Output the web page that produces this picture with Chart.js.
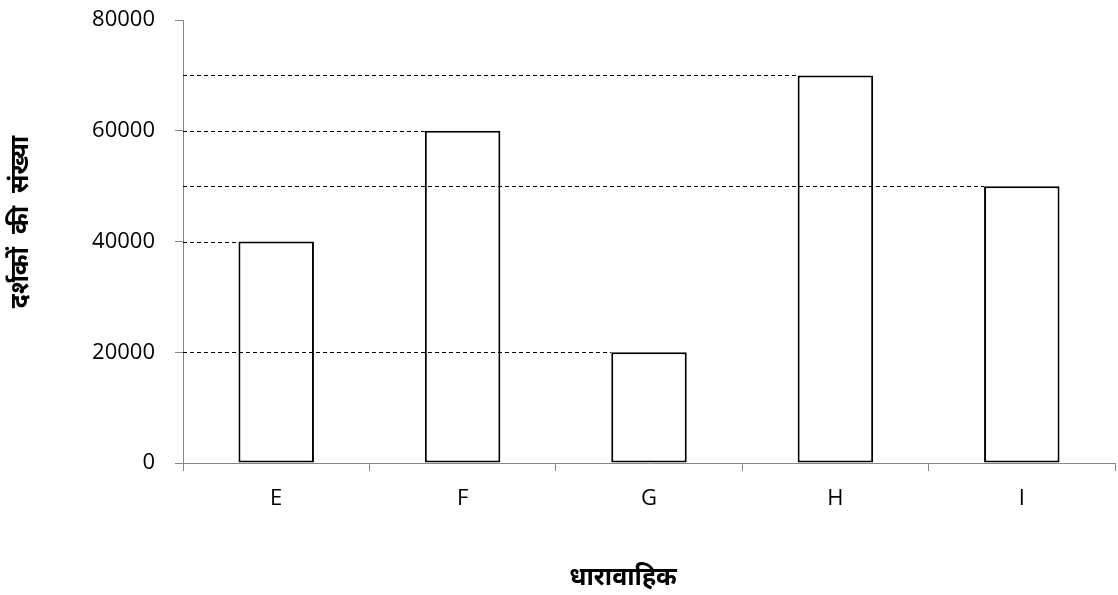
<!DOCTYPE html>
<html>
<head>
<meta charset="utf-8">
<script src="https://cdn.jsdelivr.net/npm/chart.js@4.4.1/dist/chart.umd.min.js"></script>
<style>
  html, body { margin: 0; padding: 0; background: #fff; }
  #wrap { width: 1118px; height: 595px; position: relative; }
</style>
</head>
<body>
<div id="wrap"><canvas id="chartDharavahik"></canvas></div>
<script>
const categories = ['E', 'F', 'G', 'H', 'I'];
const viewers = [40000, 60000, 20000, 70000, 50000];
const yTicks = [0, 20000, 40000, 60000, 80000];
// spaces keep the titles off-centre as in the original
const yTitle = '      दर्शकों  की  संख्या';
const xTitle = 'धारावाहिक        ';

const axisGray = '#868686';
const fontFamily = '"Open Sans", "Noto Sans", sans-serif';

// dashed guide lines from the y axis to the top-left corner of each bar
const guideLines = {
    id: 'guideLines',
    afterDatasetsDraw(chart) {
        const ctx = chart.ctx;
        const yScale = chart.scales.y;
        const meta = chart.getDatasetMeta(0);
        ctx.save();
        ctx.strokeStyle = '#000';
        ctx.lineWidth = 1;
        ctx.setLineDash([4, 3]);
        meta.data.forEach((bar, i) => {
            const y = Math.round(yScale.getPixelForValue(viewers[i])) + 0.5;
            const left = bar.x - bar.width / 2;
            ctx.beginPath();
            ctx.moveTo(yScale.right, y);
            ctx.lineTo(left, y);
            ctx.stroke();
        });
        ctx.restore();
    }
};

const ctxBar = document.getElementById('chartDharavahik');
new Chart(ctxBar, {
    type: 'bar',
    data: {
        labels: categories,
        datasets: [{
            label: 'दर्शकों की संख्या',
            data: viewers,
            backgroundColor: '#ffffff',
            borderColor: '#000000',
            borderWidth: 2,
            borderSkipped: false,
            categoryPercentage: 1,
            barPercentage: 0.405
        }]
    },
    options: {
        responsive: true,
        maintainAspectRatio: false,
        animation: false,
        layout: { padding: { left: 0, right: 3, top: 20, bottom: 2 } },
        plugins: {
            legend: { display: false },
            tooltip: { enabled: false }
        },
        scales: {
            x: {
                offset: true,
                grid: {
                    display: true,
                    drawOnChartArea: false,
                    drawTicks: true,
                    tickLength: 8,
                    color: axisGray,
                    offset: true
                },
                border: { color: axisGray, width: 1 },
                ticks: {
                    color: '#000',
                    font: { family: fontFamily, size: 22 },
                    padding: 15
                },
                title: {
                    display: true,
                    text: xTitle,
                    color: '#000',
                    font: { family: fontFamily, size: 25, weight: 'bold' },
                    padding: { top: 40, bottom: 0 }
                },
                afterFit(scale) { scale.height = 130; }
            },
            y: {
                min: 0,
                max: 80000,
                afterBuildTicks(scale) {
                    scale.ticks = yTicks.map(v => ({ value: v }));
                },
                grid: {
                    display: true,
                    drawOnChartArea: false,
                    drawTicks: true,
                    tickLength: 8,
                    color: axisGray
                },
                border: { color: axisGray, width: 1 },
                ticks: {
                    color: '#000',
                    font: { family: fontFamily, size: 22 },
                    padding: 20,
                    callback: (v) => String(v)
                },
                title: {
                    display: true,
                    text: yTitle,
                    color: '#000',
                    font: { family: fontFamily, size: 25, weight: 'bold' },
                    padding: { top: 6, bottom: 0 }
                },
                afterFit(scale) {
                    scale.width = 183;
                    scale.paddingTop = 0;
                    scale.paddingBottom = 0;
                }
            }
        }
    },
    plugins: [guideLines]
});
</script>
</body>
</html>
